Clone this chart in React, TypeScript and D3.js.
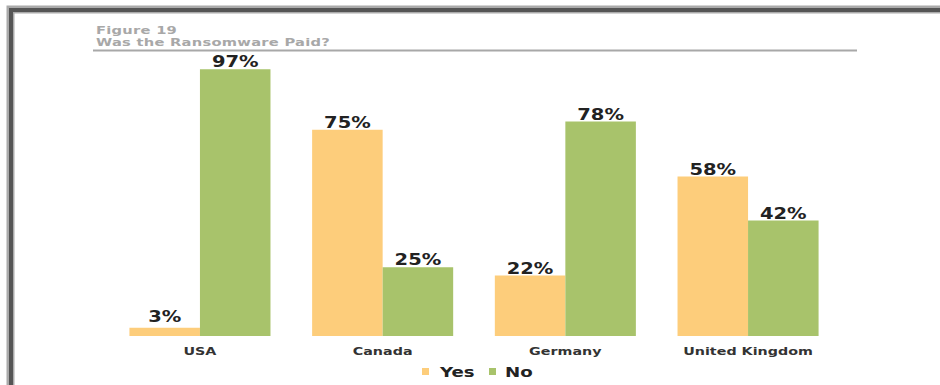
import React from "react";
import * as d3 from "d3";

const categories = ["USA", "Canada", "Germany", "United Kingdom"];
const seriesNames = ["Yes", "No"];
const yesValues = [3, 75, 22, 58];
const noValues = [97, 25, 78, 42];
const colors = ["#FDCD7B", "#A8C36B"];
const titleLine1 = "Figure 19";
const titleLine2 = "Was the Ransomware Paid?";

const W = 940;
const H = 385;
const SX = 1.3;
const FONT = "'DejaVu Sans', Verdana, sans-serif";

export default function App() {
  const x0 = d3.scaleBand<string>().domain(categories).range([108.6, 839.4]).paddingInner(0.228).paddingOuter(0.114);
  const x1 = d3.scaleBand<string>().domain(seriesNames).range([0, x0.bandwidth()]);
  const y = d3.scaleLinear().domain([0, 100]).range([336, 61]);
  const series = [yesValues, noValues];

  return (
    <svg width={W} height={H} style={{ position: "absolute", left: 0, top: 0, background: "#fff" }}>
      <rect x={0} y={0} width={W} height={H} fill="#fff" />
      {/* frame */}
      <path d={`M10.5,${H} V9.5 H${W}`} fill="none" stroke="#aaa" strokeWidth={8} />
      <path d={`M11,${H} V10 H${W}`} fill="none" stroke="#555" strokeWidth={4} />
      {/* title */}
      <g fontFamily={FONT} fontWeight="bold" fontSize={11.3} fill="#a8a8a8">
        <text transform={`translate(96,34) scale(${SX},1)`} letterSpacing={0.2}>{titleLine1}</text>
        <text transform={`translate(96,46) scale(${SX},1)`} letterSpacing={0.2}>{titleLine2}</text>
      </g>
      <line x1={93} x2={857} y1={50.5} y2={50.5} stroke="#a8a8a8" strokeWidth={2} />
      {/* bars */}
      {categories.map((c, i) => (
        <g key={c} transform={`translate(${x0(c)},0)`}>
          {seriesNames.map((s, j) => {
            const v = series[j][i];
            const bx = x1(s)!;
            const bw = x1.bandwidth();
            return (
              <g key={s}>
                <rect x={bx} y={y(v)} width={bw} height={y(0) - y(v)} fill={colors[j]} />
                <text
                  transform={`translate(${bx + bw / 2},${y(v) - (v < 10 ? 6 : 2)}) scale(${SX},1)`}
                  textAnchor="middle"
                  fontFamily={FONT}
                  fontWeight="bold"
                  fontSize={15}
                  fill="#222"
                >
                  {v}%
                </text>
              </g>
            );
          })}
          <text
            transform={`translate(${x0.bandwidth() / 2},355) scale(${SX},1)`}
            textAnchor="middle"
            fontFamily={FONT}
            fontWeight="bold"
            fontSize={11}
            fill="#333"
          >
            {c}
          </text>
        </g>
      ))}
      {/* legend */}
      <g fontFamily={FONT} fontWeight="bold" fontSize={14} fill="#222">
        <rect x={422} y={368} width={7} height={7} fill={colors[0]} />
        <text transform={`translate(440,377) scale(${SX},1)`}>{seriesNames[0]}</text>
        <rect x={489} y={368} width={7} height={7} fill={colors[1]} />
        <text transform={`translate(505,377) scale(${SX},1)`}>{seriesNames[1]}</text>
      </g>
    </svg>
  );
}
